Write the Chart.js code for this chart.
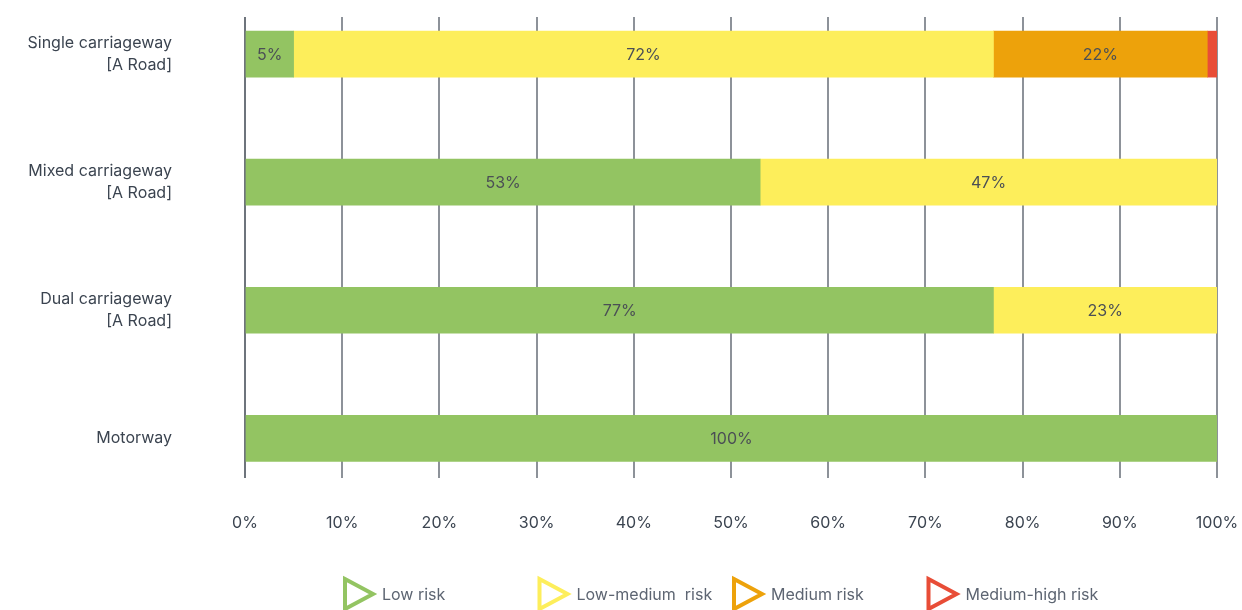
<!DOCTYPE html>
<html>
<head>
<meta charset="utf-8">
<title>Risk by road type</title>
<script src="https://cdn.jsdelivr.net/npm/chart.js@4.4.0/dist/chart.umd.min.js"></script>
<style>
    html, body { margin: 0; padding: 0; background: #fff; }
    #chart { display: block; }
</style>
</head>
<body>
<canvas id="chart" width="1242" height="610"></canvas>
<script>
// Road types, top to bottom
const roadTypes = [
    ['Single carriageway', '[A Road]'],
    ['Mixed carriageway', '[A Road]'],
    ['Dual carriageway', '[A Road]'],
    'Motorway'
];

// Share of each road type per risk band (%)
const lowRisk = [5, 53, 77, 100];
const lowMediumRisk = [72, 47, 23, 0];
const mediumRisk = [22, 0, 0, 0];
const mediumHighRisk = [1, 0, 0, 0];

const riskNames = ['Low risk', 'Low-medium  risk', 'Medium risk', 'Medium-high risk'];
const riskColours = ['#93c462', '#fdee5b', '#eda20b', '#e84d37'];

const xTicks = [0, 10, 20, 30, 40, 50, 60, 70, 80, 90, 100];

const FONT = 'Inter, "Open Sans", sans-serif';
const TEXT = '#3b4450';

function toPoints(values) {
    return values.map((v, i) => ({ x: v, y: i }));
}

// scales keep their fixed size, with no extra room for edge labels
function noPadding(scale) {
    scale.paddingTop = 0;
    scale.paddingBottom = 0;
    scale.paddingLeft = 0;
    scale.paddingRight = 0;
}

const datasets = [lowRisk, lowMediumRisk, mediumRisk, mediumHighRisk].map((vals, i) => ({
    label: riskNames[i],
    data: toPoints(vals),
    backgroundColor: riskColours[i],
    borderWidth: 0,
    barThickness: 46
}));

// Percentage written in the middle of each segment
const segmentLabels = {
    id: 'segmentLabels',
    afterDatasetsDraw(chart) {
        const ctx = chart.ctx;
        ctx.save();
        ctx.font = '16px ' + FONT;
        ctx.fillStyle = '#4b4f55';
        ctx.textAlign = 'center';
        ctx.textBaseline = 'middle';
        chart.data.datasets.forEach((ds, di) => {
            chart.getDatasetMeta(di).data.forEach((bar, i) => {
                const v = ds.data[i].x;
                if (v < 3) return;
                ctx.fillText(v + '%', (bar.x + bar.base) / 2, bar.y + 1);
            });
        });
        ctx.restore();
    }
};

// Legend with outlined "play" triangles in fixed columns
const triangleLegend = {
    id: 'triangleLegend',
    afterDraw(chart) {
        const ctx = chart.ctx;
        const startX = 343, step = 194.5, cy = 594;
        ctx.save();
        ctx.font = '16px ' + FONT;
        ctx.textBaseline = 'middle';
        ctx.textAlign = 'left';
        chart.data.datasets.forEach((ds, i) => {
            const x = startX + i * step;
            ctx.beginPath();
            ctx.moveTo(x + 2, cy - 15);
            ctx.lineTo(x + 30, cy);
            ctx.lineTo(x + 2, cy + 15);
            ctx.closePath();
            ctx.lineWidth = 4;
            ctx.lineJoin = 'miter';
            ctx.strokeStyle = ds.backgroundColor;
            ctx.stroke();
            ctx.fillStyle = '#5d6572';
            ctx.fillText(ds.label, x + 39, cy + 1);
        });
        ctx.restore();
    }
};

new Chart(document.getElementById('chart'), {
    type: 'bar',
    data: { datasets: datasets },
    plugins: [segmentLabels, triangleLegend],
    options: {
        indexAxis: 'y',
        responsive: false,
        animation: false,
        maintainAspectRatio: false,
        layout: { padding: { top: 17, right: 25, left: 0, bottom: 0 } },
        plugins: {
            legend: { display: false },
            tooltip: { enabled: false }
        },
        scales: {
            x: {
                type: 'linear',
                stacked: true,
                min: 0,
                max: 100,
                afterBuildTicks: scale => { scale.ticks = xTicks.map(v => ({ value: v })); },
                afterFit: scale => { scale.height = 132; noPadding(scale); },
                grid: {
                    color: ctx => ctx.tick && ctx.tick.value === 0 ? '#6e747c' : '#8d9299',
                    lineWidth: 2,
                    drawTicks: false
                },
                border: { display: false },
                ticks: {
                    padding: 36,
                    color: TEXT,
                    font: { family: FONT, size: 16 },
                    callback: v => v + '%'
                }
            },
            y: {
                type: 'linear',
                stacked: true,
                reverse: true,
                offset: false,
                min: -0.29,
                max: 3.31,
                afterBuildTicks: scale => { scale.ticks = roadTypes.map((_, i) => ({ value: i })); },
                afterFit: scale => { scale.width = 245; noPadding(scale); },
                grid: { display: false, drawTicks: false, offset: false },
                border: { display: false },
                ticks: {
                    padding: 73,
                    color: TEXT,
                    font: { family: FONT, size: 16, lineHeight: 1.35 },
                    callback: v => roadTypes[v]
                }
            }
        }
    }
});
</script>
</body>
</html>
